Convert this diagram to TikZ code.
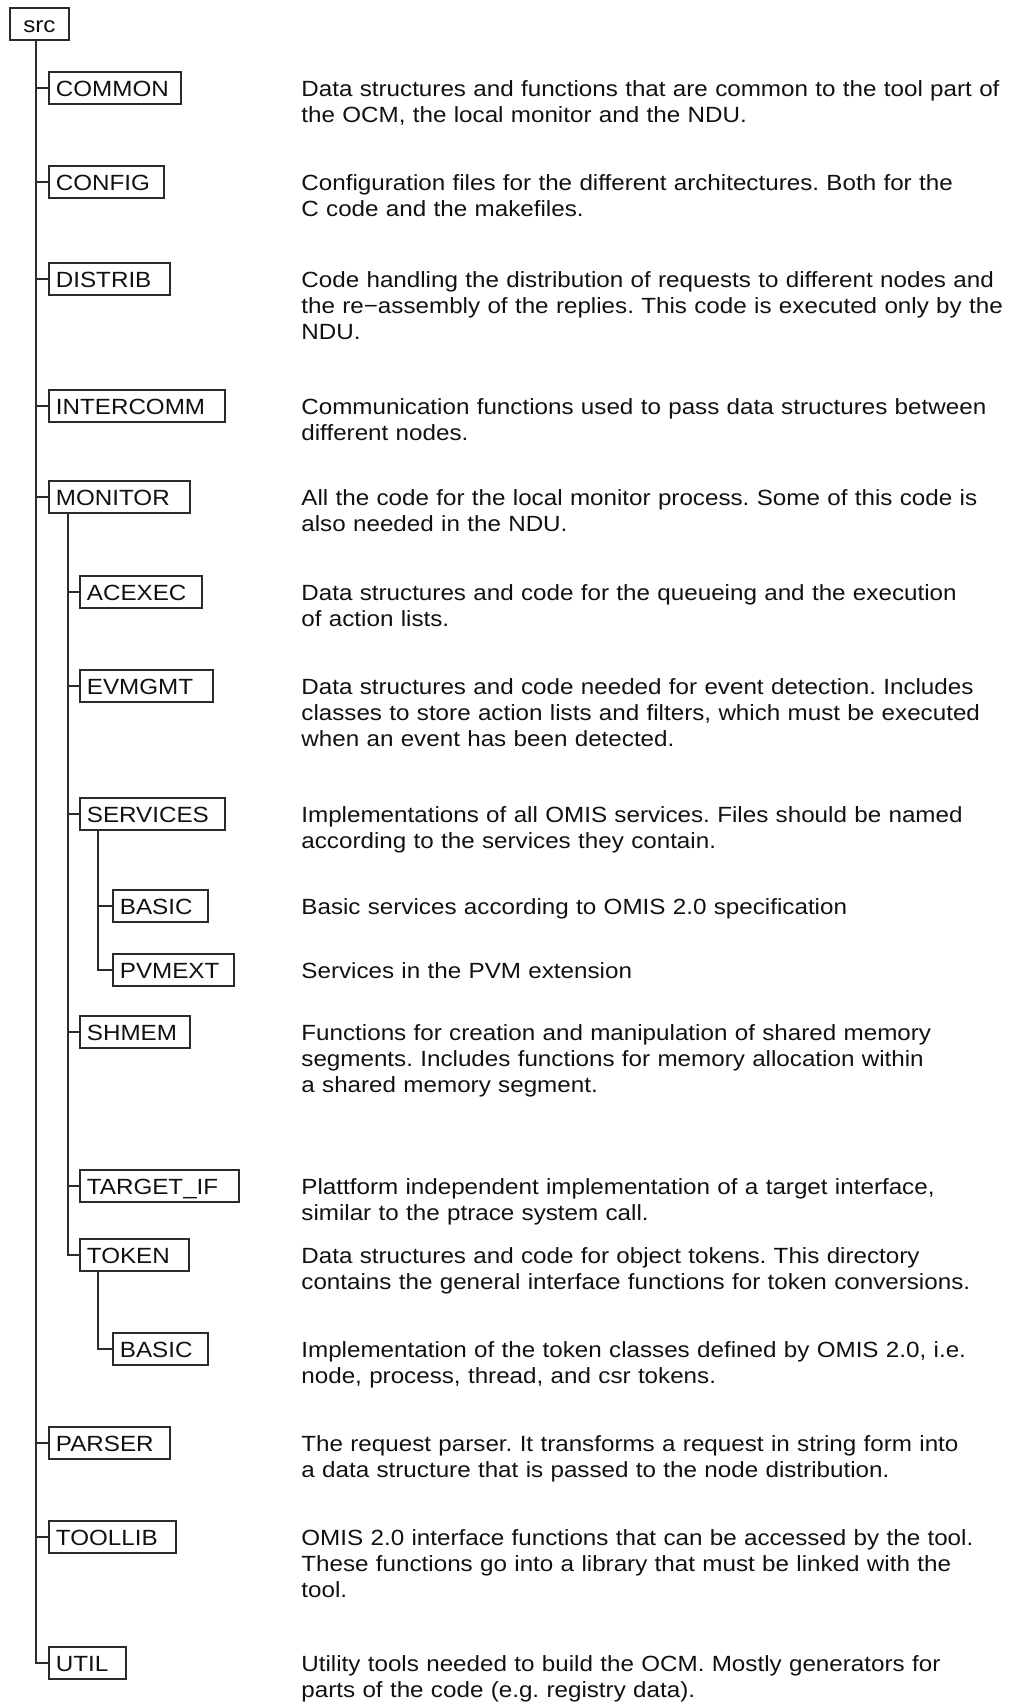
\documentclass[tikz,border=0pt]{standalone}
\usepackage{fontspec}
\setmainfont{Liberation Sans}[FakeStretch=1.1]
\usetikzlibrary{calc}
\definecolor{framegray}{HTML}{2B2B2B}
\definecolor{textblack}{HTML}{111111}
\frenchspacing

\begin{document}
\begin{tikzpicture}[
    x=0.5pt, y=-0.5pt,
    every node/.style={font=\fontsize{11pt}{13pt}\selectfont, text=textblack},
    dirbox/.style={
        draw=framegray,
        line width=0.9pt,
        anchor=west,
        minimum height=16pt,
        inner xsep=3.5pt,
        inner ysep=0pt,
        text height=8pt,
        text depth=0pt,
        align=left
    },
    desc/.style={
        anchor=base west,
        yshift=-4pt,
        inner sep=0pt,
        text width=370pt,
        align=left
    },
    tree/.style={draw=framegray, line width=1pt}
]
\useasboundingbox (0,0) rectangle (1035,1708);

\node[dirbox, text width=22.5pt, align=center] (src) at (9,24) {src};

\node[dirbox, text width=59pt] (common) at (48,88) {COMMON};
\node[dirbox, text width=50.5pt] (config) at (48,182) {CONFIG};
\node[dirbox, text width=53.5pt] (distrib) at (48,279) {DISTRIB};
\node[dirbox, text width=81pt] (intercomm) at (48,406) {INTERCOMM};
\node[dirbox, text width=63.5pt] (monitor) at (48,497) {MONITOR};
\node[dirbox, text width=54pt] (acexec) at (79,592) {ACEXEC};
\node[dirbox, text width=59.5pt] (evmgmt) at (79,686) {EVMGMT};
\node[dirbox, text width=65.5pt] (services) at (79,814) {SERVICES};
\node[dirbox, text width=40.5pt] (basic) at (112,906) {BASIC};
\node[dirbox, text width=53.5pt] (pvmext) at (112,970) {PVMEXT};
\node[dirbox, text width=48pt] (shmem) at (79,1032) {SHMEM};
\node[dirbox, text width=72.5pt] (targetif) at (79,1186) {TARGET\_IF};
\node[dirbox, text width=47.5pt] (token) at (79,1255) {TOKEN};
\node[dirbox, text width=40.5pt] (tbasic) at (112,1349) {BASIC};
\node[dirbox, text width=53.5pt] (parser) at (48,1443) {PARSER};
\node[dirbox, text width=56.5pt] (toollib) at (48,1537) {TOOLLIB};
\node[dirbox, text width=31.5pt] (util) at (48,1663) {UTIL};

\coordinate (desccol) at (301,0);

\node[desc] (dcommon) at (desccol |- common) {Data structures and functions that are common to the tool part of\\the OCM, the local monitor and the NDU.};
\node[desc] (dconfig) at (desccol |- config) {Configuration files for the different architectures. Both for the\\C code and the makefiles.};
\node[desc] (ddistrib) at (desccol |- distrib) {Code handling the distribution of requests to different nodes and\\the re−assembly of the replies. This code is executed only by the\\NDU.};
\node[desc] (dintercomm) at (desccol |- intercomm) {Communication functions used to pass data structures between\\different nodes.};
\node[desc] (dmonitor) at (desccol |- monitor) {All the code for the local monitor process. Some of this code is\\also needed in the NDU.};
\node[desc] (dacexec) at (desccol |- acexec) {Data structures and code for the queueing and the execution\\of action lists.};
\node[desc] (devmgmt) at (desccol |- evmgmt) {Data structures and code needed for event detection. Includes\\classes to store action lists and filters, which must be executed\\when an event has been detected.};
\node[desc] (dservices) at (desccol |- services) {Implementations of all OMIS services. Files should be named\\according to the services they contain.};
\node[desc] (dbasic) at (desccol |- basic) {Basic services according to OMIS 2.0 specification};
\node[desc] (dpvmext) at (desccol |- pvmext) {Services in the PVM extension};
\node[desc] (dshmem) at (desccol |- shmem) {Functions for creation and manipulation of shared memory\\segments. Includes functions for memory allocation within\\a shared memory segment.};
\node[desc] (dtargetif) at (desccol |- targetif) {Plattform independent implementation of a target interface,\\similar to the ptrace system call.};
\node[desc] (dtoken) at (desccol |- token) {Data structures and code for object tokens. This directory\\contains the general interface functions for token conversions.};
\node[desc] (dtbasic) at (desccol |- tbasic) {Implementation of the token classes defined by OMIS 2.0, i.e.\\node, process, thread, and csr tokens.};
\node[desc] (dparser) at (desccol |- parser) {The request parser. It transforms a request in string form into\\a data structure that is passed to the node distribution.};
\node[desc] (dtoollib) at (desccol |- toollib) {OMIS 2.0 interface functions that can be accessed by the tool.\\These functions go into a library that must be linked with the\\tool.};
\node[desc] (dutil) at (desccol |- util) {Utility tools needed to build the OCM. Mostly generators for\\parts of the code (e.g. registry data).};

% trunks
\coordinate (trunk0) at ($(src.south west)+(27,0)$);
\coordinate (trunk1) at ($(monitor.south west)+(20,0)$);
\coordinate (trunk2) at ($(services.south west)+(19,0)$);
\coordinate (trunk3) at ($(token.south west)+(19,0)$);

\draw[tree] (trunk0) |- (util.west);
\draw[tree] (trunk0 |- common) -- (common.west);
\draw[tree] (trunk0 |- config) -- (config.west);
\draw[tree] (trunk0 |- distrib) -- (distrib.west);
\draw[tree] (trunk0 |- intercomm) -- (intercomm.west);
\draw[tree] (trunk0 |- monitor) -- (monitor.west);
\draw[tree] (trunk0 |- parser) -- (parser.west);
\draw[tree] (trunk0 |- toollib) -- (toollib.west);

\draw[tree] (trunk1) |- (token.west);
\draw[tree] (trunk1 |- acexec) -- (acexec.west);
\draw[tree] (trunk1 |- evmgmt) -- (evmgmt.west);
\draw[tree] (trunk1 |- services) -- (services.west);
\draw[tree] (trunk1 |- shmem) -- (shmem.west);
\draw[tree] (trunk1 |- targetif) -- (targetif.west);

\draw[tree] (trunk2) |- (pvmext.west);
\draw[tree] (trunk2 |- basic) -- (basic.west);

\draw[tree] (trunk3) |- (tbasic.west);

\end{tikzpicture}
\end{document}
